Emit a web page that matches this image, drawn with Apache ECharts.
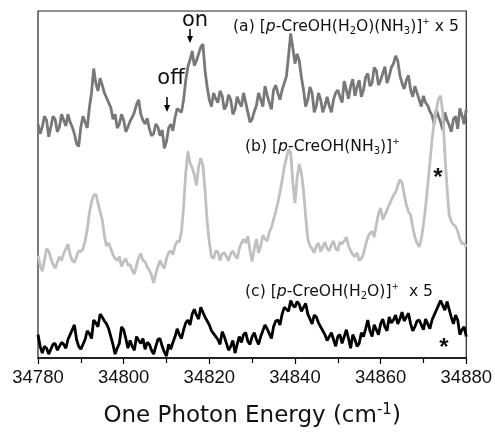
<!DOCTYPE html>
<html>
<head>
<meta charset="utf-8">
<script src="https://cdn.jsdelivr.net/npm/echarts@6/dist/echarts.min.js"></script>
<style>
  html, body { margin: 0; padding: 0; background: #fff; }
  #chart { width: 495px; height: 433px; }
</style>
</head>
<body>
<div id="chart"></div>
<script>
// energy grid, 0.5 cm-1 steps
const energyStart = 34780;
const energyStep = 0.5;

// (a) [p-CreOH(H2O)(NH3)]+ x 5  (offset, arbitrary units)
const traceA = [
  240, 230, 237, 248, 244, 227, 237, 248, 245, 232,
  237, 250, 244, 238, 250, 242, 237, 230, 220, 217,
  237, 248, 242, 236, 257, 272, 297, 282, 274, 287,
  280, 272, 267, 262, 257, 245, 250, 236, 240, 250,
  244, 232, 237, 243, 247, 252, 260, 265, 250, 244,
  240, 246, 235, 228, 230, 240, 237, 228, 234, 215,
  222, 236, 240, 233, 247, 256, 254, 252, 265, 285,
  299, 306, 315, 300, 305, 312, 319, 322, 295, 278,
  265, 258, 272, 266, 262, 274, 269, 255, 259, 270,
  265, 250, 255, 268, 262, 258, 272, 262, 252, 242,
  245, 253, 259, 272, 265, 258, 279, 270, 262, 255,
  275, 280, 272, 265, 275, 282, 289, 310, 333, 318,
  302, 312, 305, 288, 275, 258, 265, 278, 272, 252,
  259, 272, 265, 252, 259, 268, 259, 252, 265, 272,
  275, 268, 262, 284, 275, 266, 279, 286, 269, 278,
  285, 268, 275, 288, 292, 279, 282, 298, 295, 280,
  285, 292, 299, 282, 289, 298, 302, 310, 305, 290,
  282, 276, 285, 290, 275, 268, 279, 272, 265, 258,
  269, 262, 259, 253, 249, 240, 255, 248, 242, 234,
  252, 244, 239, 232, 245, 248, 235, 256, 249, 240,
  255
];

// (b) [p-CreOH(NH3)]+
const traceB = [
  105, 95, 89, 100, 112, 110, 102, 96, 92, 98,
  104, 100, 107, 112, 117, 106, 100, 98, 104, 110,
  109, 112, 120, 132, 149, 160, 167, 168, 159, 150,
  142, 125, 115, 118, 112, 106, 102, 100, 104, 94,
  99, 102, 95, 96, 90, 86, 95, 103, 107, 100,
  99, 93, 90, 85, 77, 86, 94, 100, 95, 92,
  102, 108, 110, 106, 115, 120, 119, 130, 155, 190,
  212, 200, 195, 188, 177, 196, 205, 198, 172, 140,
  119, 104, 102, 110, 109, 100, 107, 108, 104, 100,
  107, 110, 105, 102, 112, 118, 122, 118, 125, 110,
  99, 112, 122, 108, 115, 126, 122, 120, 129, 134,
  142, 150, 159, 170, 182, 196, 205, 214, 211, 180,
  159, 185, 199, 190, 172, 145, 122, 115, 112, 108,
  115, 118, 109, 114, 119, 112, 110, 116, 120, 112,
  110, 119, 117, 120, 124, 115, 110, 106, 104, 108,
  100, 102, 107, 116, 124, 128, 130, 124, 137, 148,
  154, 142, 147, 152, 157, 162, 167, 170, 177, 183,
  180, 168, 157, 150, 147, 134, 124, 118, 114, 122,
  137, 155, 177, 200, 224, 242, 254, 266, 269, 252,
  210, 175, 147, 140, 137, 135, 130, 122, 117, 118,
  114
];

// (c) [p-CreOH(H2O)]+ x 5
const traceC = [
  24, 12, 5, 12, 10, 4, 9, 14, 15, 8,
  12, 16, 14, 10, 19, 24, 29, 34, 19, 12,
  9, 14, 19, 28, 25, 20, 39, 36, 32, 45,
  42, 38, 35, 30, 22, 14, 4, 10, 15, 32,
  29, 20, 10, 18, 12, 8, 22, 18, 15, 20,
  9, 16, 14, 8, 4, 12, 19, 20, 12, 6,
  2, 14, 9, 16, 22, 30, 24, 20, 29, 36,
  39, 34, 45, 50, 44, 40, 52, 47, 42, 38,
  34, 28, 25, 22, 19, 14, 27, 22, 15, 8,
  12, 18, 5, 14, 22, 16, 24, 26, 17, 14,
  22, 26, 19, 14, 22, 28, 34, 30, 25, 20,
  32, 38, 39, 34, 45, 52, 50, 48, 59, 54,
  52, 58, 55, 48, 52, 56, 45, 40, 35, 44,
  42, 36, 32, 28, 24, 18, 22, 26, 19, 12,
  22, 24, 15, 22, 29, 20, 10, 24, 19, 12,
  15, 26, 22, 30, 39, 28, 22, 34, 29, 24,
  35, 40, 32, 28, 42, 36, 39, 44, 35, 40,
  47, 38, 42, 46, 35, 28, 32, 38, 39, 34,
  29, 40, 35, 30, 39, 44, 49, 54, 59, 54,
  49, 58, 50, 42, 35, 44, 39, 24, 29, 32,
  22
];

const xTicks = [34780, 34800, 34820, 34840, 34860, 34880];

const FONT = '"Liberation Sans", Arial, sans-serif';
const WIDE = '"DejaVu Sans", sans-serif';

function toPairs(vals) {
  return vals.map((v, i) => [energyStart + i * energyStep, v]);
}

const richLabel = {
  i: { fontFamily: WIDE, fontSize: 15.6, fontStyle: 'italic', lineHeight: 19, color: '#111' },
  sub: { fontFamily: WIDE, fontSize: 10, lineHeight: 10, verticalAlign: 'bottom', color: '#111' },
  sup: { fontFamily: WIDE, fontSize: 9, lineHeight: 9, verticalAlign: 'top', color: '#111' }
};

function label(text, x, y) {
  return {
    type: 'text', x: x, y: y, z: 10,
    style: {
      text: text, fill: '#111', font: '15.6px ' + WIDE, lineHeight: 19,
      align: 'left', verticalAlign: 'middle', rich: richLabel
    }
  };
}

function arrow(x, y1, y2) {
  return [
    { type: 'line', z: 10, shape: { x1: x, y1: y1, x2: x, y2: y2 - 5 }, style: { stroke: '#000', lineWidth: 1.5 } },
    { type: 'polygon', z: 10, shape: { points: [[x - 3, y2 - 7], [x + 3, y2 - 7], [x, y2]] }, style: { fill: '#000' } }
  ];
}

const chart = echarts.init(document.getElementById('chart'), null, { renderer: 'canvas' });

chart.setOption({
  animation: false,
  backgroundColor: '#fff',
  grid: { left: 38, right: 27, top: 11, bottom: 66, show: true, borderColor: '#222', borderWidth: 1.2 },
  xAxis: {
    type: 'value', min: 34780, max: 34880, interval: 20,
    axisLine: { show: true, lineStyle: { color: '#000', width: 1.5 } },
    axisTick: { show: true, inside: false, length: 6, lineStyle: { color: '#000', width: 1.2 } },
    minorTick: { show: true, splitNumber: 2, length: 5, lineStyle: { color: '#000', width: 1.2 } },
    splitLine: { show: false },
    axisLabel: {
      margin: 10, fontFamily: FONT, fontSize: 18.5, color: '#111',
      formatter: v => xTicks.includes(v) ? String(v) : ''
    },
    name: '{n|One Photon Energy (cm}{s|-1}{n|)}',
    nameLocation: 'middle', nameGap: 45,
    nameTextStyle: {
      rich: {
        n: { fontFamily: WIDE, fontSize: 23, lineHeight: 27, color: '#111' },
        s: { fontFamily: WIDE, fontSize: 15, lineHeight: 15, verticalAlign: 'top', color: '#111' }
      }
    }
  },
  yAxis: {
    type: 'value', min: 0, max: 356,
    axisLine: { show: false }, axisTick: { show: false },
    axisLabel: { show: false }, splitLine: { show: false }
  },
  series: [
    { name: 'a', type: 'line', data: toPairs(traceA), showSymbol: false, lineStyle: { color: '#787878', width: 2.8 } },
    { name: 'b', type: 'line', data: toPairs(traceB), showSymbol: false, lineStyle: { color: '#c0c0c0', width: 2.8 } },
    { name: 'c', type: 'line', data: toPairs(traceC), showSymbol: false, lineStyle: { color: '#000', width: 2.8 } }
  ],
  graphic: [
    label('(a) [{i|p}-CreOH(H{sub|2}O)(NH{sub|3})]{sup|+} x 5', 233, 27),
    label('(b) [{i|p}-CreOH(NH{sub|3})]{sup|+}', 245, 147),
    label('(c) [{i|p}-CreOH(H{sub|2}O)]{sup|+}  x 5', 245, 292),
    { type: 'text', x: 195, y: 21, z: 10, style: { text: 'on', font: '21px ' + WIDE, fill: '#111', align: 'center', verticalAlign: 'middle' } },
    { type: 'text', x: 171, y: 79, z: 10, style: { text: 'off', font: '21px ' + WIDE, fill: '#111', align: 'center', verticalAlign: 'middle' } },
    ...arrow(190, 29, 43),
    ...arrow(167, 97, 112),
    { type: 'text', x: 438, y: 178, z: 10, style: { text: '*', font: 'bold 24px ' + FONT, fill: '#111', align: 'center', verticalAlign: 'middle' } },
    { type: 'text', x: 444, y: 348, z: 10, style: { text: '*', font: 'bold 24px ' + FONT, fill: '#111', align: 'center', verticalAlign: 'middle' } }
  ]
});
</script>
</body>
</html>
